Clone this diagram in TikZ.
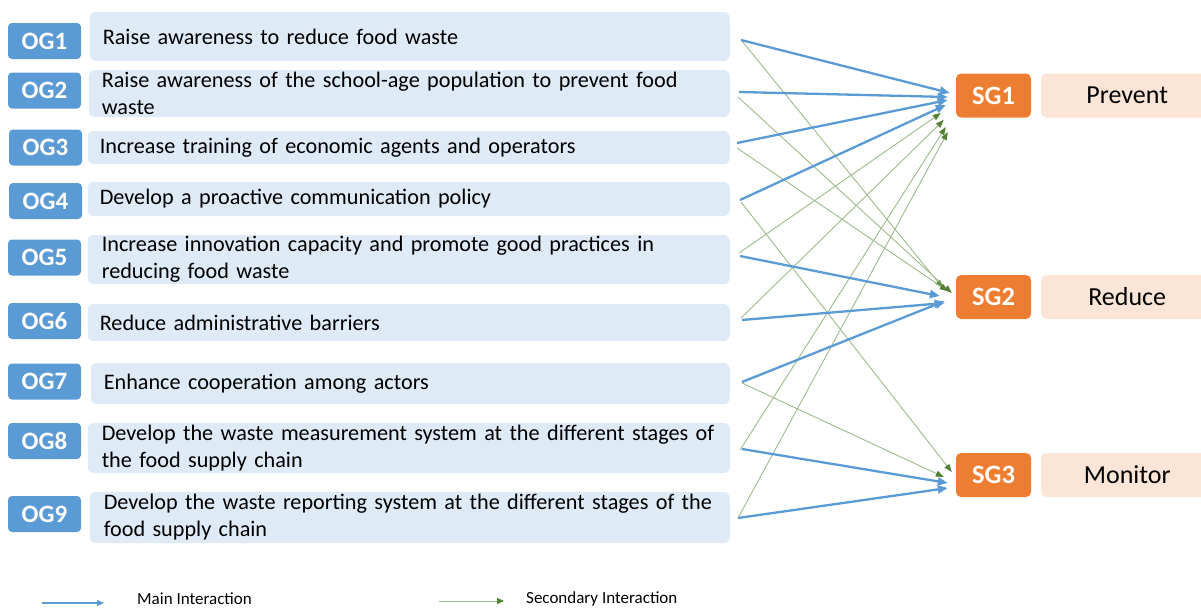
\documentclass[tikz,border=0pt]{standalone}
\usepackage{fontspec}
\setmainfont{Carlito}
\usetikzlibrary{arrows.meta,calc}
\definecolor{ogblue}{HTML}{5B9BD5}
\definecolor{boxblue}{HTML}{DEEAF6}
\definecolor{sgorange}{HTML}{ED7D31}
\definecolor{boxpeach}{HTML}{FBE5D6}
\definecolor{mainline}{HTML}{5B9BD5}
\definecolor{secline}{HTML}{9DBA8B}
\definecolor{sechead}{HTML}{548235}
\begin{document}
\begin{tikzpicture}[x=1pt,y=-1pt,
  oglabel/.style={fill=ogblue, rounded corners=4pt, minimum width=73pt,
    minimum height=36pt, inner sep=0pt, text=white,
    font=\fontsize{25}{28}\selectfont\bfseries},
  goalbox/.style={fill=boxblue, rounded corners=6pt, anchor=east,
    inner xsep=13pt, inner ysep=0pt, align=left,
    font=\fontsize{22.2}{27}\selectfont},
  sglabel/.style={fill=sgorange, rounded corners=5pt, minimum width=75pt,
    minimum height=44pt, inner sep=0pt, text=white,
    font=\fontsize{26.5}{30}\selectfont\bfseries},
  sgbox/.style={fill=boxpeach, rounded corners=5pt, minimum width=172pt,
    minimum height=44pt, inner sep=0pt, anchor=west,
    font=\fontsize{26}{30}\selectfont},
  mainarrow/.style={draw=mainline, line width=2.3pt,
    -{Triangle[length=10pt,width=8pt,color=mainline]}},
  secarrow/.style={draw=secline, line width=0.9pt,
    -{Triangle[length=8pt,width=6pt,color=sechead]}},
  legendtext/.style={anchor=base west, inner sep=0pt, font=\fontsize{17}{19}\selectfont}
]
\useasboundingbox (0,0) rectangle (1201,608);

% operational goal labels
\node[oglabel] (og1) at (44.5,41)    {OG1};
\node[oglabel] (og2) at (44.5,90.5)  {OG2};
\node[oglabel] (og3) at (45.5,147.5) {OG3};
\node[oglabel] (og4) at (45.5,201)   {OG4};
\node[oglabel] (og5) at (44.5,257.5) {OG5};
\node[oglabel] (og6) at (44.5,321)   {OG6};
\node[oglabel] (og7) at (44.5,381.5) {OG7};
\node[oglabel] (og8) at (44.5,441)   {OG8};
\node[oglabel] (og9) at (44.5,514)   {OG9};

% operational goal descriptions
\node[goalbox, text width=614pt, minimum height=49pt] (t1) at (730,36.5)
  {Raise awareness to reduce food waste};
\node[goalbox, text width=615pt, minimum height=47pt] (t2) at (730,93.5)
  {Raise awareness of the school-age population to prevent food\\waste};
\node[goalbox, text width=618pt, minimum height=33pt, inner xsep=12pt] (t3) at (730,147.5)
  {Increase training of economic agents and operators};
\node[goalbox, text width=618pt, minimum height=34pt, inner xsep=12pt] (t4) at (730,199)
  {Develop a proactive communication policy};
\node[goalbox, text width=614pt, minimum height=49pt, inner xsep=14pt] (t5) at (730,259.5)
  {Increase innovation capacity and promote good practices in\\reducing food waste};
\node[goalbox, text width=618pt, minimum height=37pt, inner xsep=12pt] (t6) at (730,322.5)
  {Reduce administrative barriers};
\node[goalbox, text width=613pt, minimum height=41pt] (t7) at (730,383.5)
  {Enhance cooperation among actors};
\node[goalbox, text width=614pt, minimum height=50pt, inner xsep=14pt] (t8) at (730,448)
  {Develop the waste measurement system at the different stages of\\the food supply chain};
\node[goalbox, text width=612pt, minimum height=51pt, inner xsep=14pt] (t9) at (730,517.5)
  {Develop the waste reporting system at the different stages of the\\food supply chain};

% strategic goals
\node[sglabel] (sg1) at (993.5,95.5) {SG1};
\node[sglabel] (sg2) at (993.5,297)  {SG2};
\node[sglabel] (sg3) at (993.5,475)  {SG3};
\node[sgbox] (p1) at (1041,95.5) {Prevent};
\node[sgbox] (p2) at (1041,297)  {Reduce};
\node[sgbox] (p3) at (1041,475)  {Monitor};

% secondary interactions
\draw[secarrow] ([shift={(12,4.5)}]t1.east) -- ([shift={(-13,-9)}]sg2.west);
\draw[secarrow] ([shift={(8,3.5)}]t2.east)  -- ([shift={(-4,-4)}]sg2.west);
\draw[secarrow] ([shift={(7,0.5)}]t3.east)  -- ([shift={(-8,-6)}]sg2.west);
\draw[secarrow] ([shift={(11,3)}]t4.east)   -- ([shift={(-4,-3)}]sg3.west);
\draw[secarrow] ([shift={(12,-0.5)}]t7.east) -- ([shift={(-12,2)}]sg3.west);
\draw[secarrow] ([shift={(9,-6.5)}]t5.east) -- ([shift={(-15,17.5)}]sg1.west);
\draw[secarrow] ([shift={(11,-4.5)}]t6.east) -- ([shift={(-12,24.5)}]sg1.west);
\draw[secarrow] ([shift={(10,2)}]t8.east)   -- ([shift={(-10,31.5)}]sg1.west);
\draw[secarrow] ([shift={(8,0.5)}]t9.east)  -- ([shift={(-8,36.5)}]sg1.west);

% main interactions
\draw[mainarrow] ([shift={(11,3.5)}]t1.east)  -- ([shift={(-6,-2.5)}]sg1.west);
\draw[mainarrow] ([shift={(9,-1.5)}]t2.east)  -- ([shift={(-8,1.5)}]sg1.west);
\draw[mainarrow] ([shift={(7,-4.5)}]t3.east)  -- ([shift={(-8,4.5)}]sg1.west);
\draw[mainarrow] ([shift={(10,1)}]t4.east)    -- ([shift={(-10,9.5)}]sg1.west);
\draw[mainarrow] ([shift={(10,-3.5)}]t5.east) -- ([shift={(-16,-1)}]sg2.west);
\draw[mainarrow] ([shift={(12,-2.5)}]t6.east) -- ([shift={(-11,6)}]sg2.west);
\draw[mainarrow] ([shift={(12,-1.5)}]t7.east) -- ([shift={(-11,4)}]sg2.west);
\draw[mainarrow] ([shift={(12,1)}]t8.east)    -- ([shift={(-8,8)}]sg3.west);
\draw[mainarrow] ([shift={(8,0.5)}]t9.east)   -- ([shift={(-8,13)}]sg3.west);

% legend
\coordinate (lm1) at (42,603);
\coordinate (lm2) at (104,603);
\coordinate (ls1) at (439,601);
\coordinate (ls2) at (504,601);
\draw[draw=mainline, line width=1.4pt, -{Triangle[length=7pt,width=6pt,color=mainline]}] (lm1) -- (lm2);
\draw[draw=secline, line width=0.9pt, -{Triangle[length=7pt,width=6pt,color=sechead]}] (ls1) -- (ls2);
\node[legendtext] (lmt) at (137,604.5) {Main Interaction};
\node[legendtext] (lst) at (526,603) {Secondary Interaction};
\end{tikzpicture}
\end{document}
